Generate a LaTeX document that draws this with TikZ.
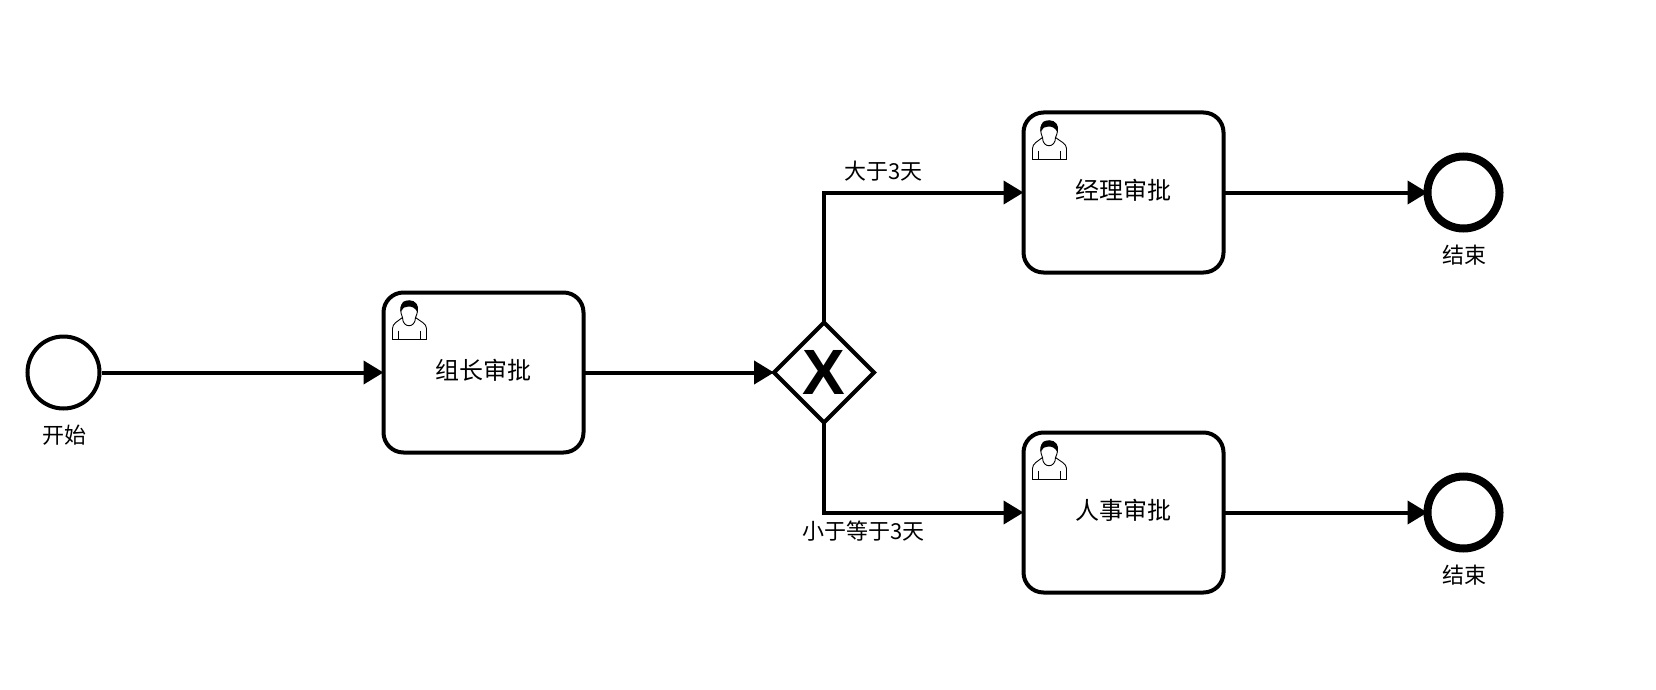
\documentclass[tikz,border=0pt]{standalone}
\usepackage{fontspec}
\setmainfont{Liberation Sans}
\newfontfamily\cjk{Noto Sans CJK SC}
\usetikzlibrary{arrows.meta,shapes.geometric}
\tikzset{
  flow/.style={line width=4pt,-{Triangle[length=20pt,width=23pt]}},
  taskbox/.style={draw,line width=4pt,rounded corners=20pt,minimum width=200pt,minimum height=160pt,text depth=7pt,font=\cjk\fontsize{24}{28}\selectfont,outer sep=0pt,inner sep=0pt},
  startev/.style={draw,circle,line width=4pt,minimum size=72pt,inner sep=0pt,outer sep=2pt},
  endev/.style={draw,circle,line width=8pt,minimum size=72pt,inner sep=0pt,outer sep=0pt},
  gatebox/.style={draw,diamond,line width=4pt,minimum width=100pt,minimum height=100pt,inner sep=0pt,outer sep=0pt,font=\bfseries\fontsize{64}{64}\selectfont},
  lbl/.style={font=\cjk\fontsize{22}{26}\selectfont,inner sep=0pt},
}
\newcommand{\usericon}[1]{
  \begin{scope}[shift={(#1)},line width=.9pt]
  \draw[fill=white] (9,47) -- (9,36) .. controls (9,31) and (14,29) .. (19,25) .. controls (17,20) and (16,15) .. (19,12)
    .. controls (22,7) and (30,7) .. (33,12) .. controls (35,16) and (34,21) .. (32,25) .. controls (37,29) and (43,31) .. (43,36) -- (43,47) -- cycle;
  \fill (18,19) .. controls (15,8) and (23,8) .. (25,8) .. controls (31,8) and (36,12) .. (34,20) .. controls (32,15) and (28,14) .. (25,14) .. controls (22,14) and (19,15) .. (18,19) -- cycle;
  \draw (19,25) .. controls (19,36) and (32,36) .. (32,25);
  \draw (15,38) -- (15,47) (37,38) -- (37,47);
  \end{scope}
}
\begin{document}
\begin{tikzpicture}[x=1pt,y=-1pt]
\useasboundingbox[fill=white] (0,0) rectangle (1656,690);
% events
\node[startev] (start) at (63.5,372.5) {};
\node[endev] (endtop) at (1463.5,192.5) {};
\node[endev] (endbot) at (1463.5,512.5) {};
% tasks
\node[taskbox] (lead) at (483.5,372.5) {组长审批};
\node[taskbox] (mgr) at (1123.5,192.5) {经理审批};
\node[taskbox] (hr) at (1123.5,512.5) {人事审批};
\foreach \t in {lead,mgr,hr}{
  \usericon{\t.north west}
}
% gateway
\node[gatebox] (gate) at (824,372.5) {X};
% flows
\draw[flow] (start) -- (lead);
\draw[flow] (lead) -- (gate);
\draw[flow] (gate.north) |- (mgr);
\draw[flow] (gate.south) |- (hr);
\draw[flow] (mgr) -- (endtop);
\draw[flow] (hr) -- (endbot);
% labels
\node[lbl] (lstart) at (64,435) {开始};
\node[lbl] (lend1) at (1464.5,255) {结束};
\node[lbl] (lend2) at (1464.5,575) {结束};
\node[lbl] (lmore) at (883.5,171) {大于3天};
\node[lbl] (lless) at (863.5,531) {小于等于3天};
\end{tikzpicture}
\end{document}
